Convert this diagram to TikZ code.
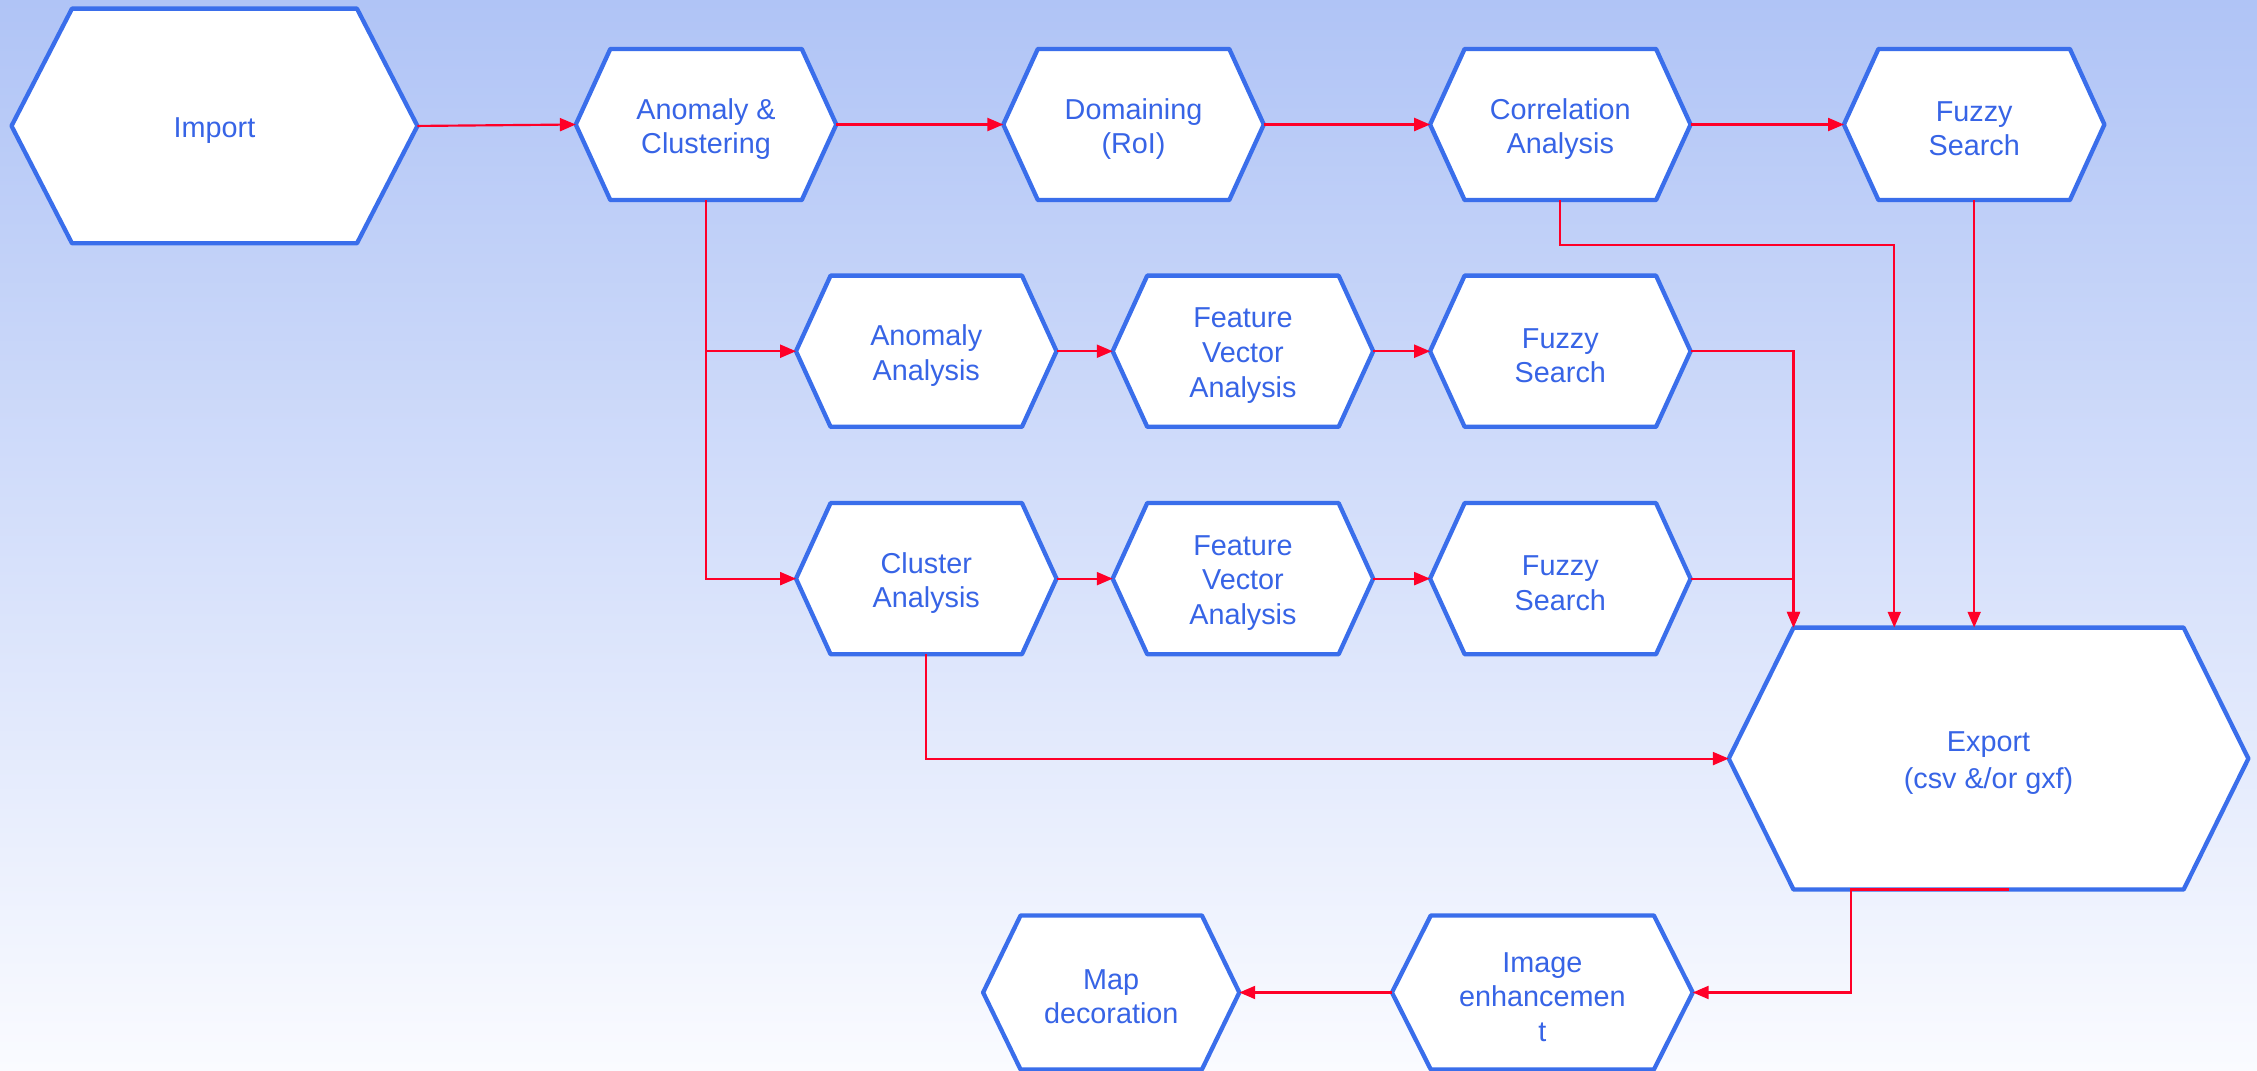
\documentclass[tikz,border=0pt]{standalone}
\usepackage{fontspec}
\setmainfont{Liberation Sans}
\usetikzlibrary{arrows.meta}
\definecolor{hexblue}{RGB}{58,110,235}
\definecolor{txtblue}{RGB}{55,100,230}
\definecolor{linkred}{RGB}{255,0,40}
\definecolor{bgtop}{RGB}{176,196,246}
\definecolor{bgbot}{RGB}{250,251,255}
\tikzset{
  hexframe/.style={rectangle, inner sep=0pt, outer sep=0pt},
  hexline/.style={draw=hexblue, line width=3pt, fill=white, line join=round},
  hextext/.style={text=txtblue, align=center, inner sep=0pt, font=\fontsize{20}{24}\selectfont},
  conn/.style={draw=linkred, line width=1.5pt, -{Triangle[length=11pt,width=9pt]}},
}
\newcommand{\hexbox}[7]{%
  \node[hexframe, minimum width=#4pt, minimum height=#5pt] (#1) at (#2,#3) {};
  \draw[hexline] (#1.west) -- ([xshift=#6pt]#1.north west) -- ([xshift=-#6pt]#1.north east) -- (#1.east) -- ([xshift=-#6pt]#1.south east) -- ([xshift=#6pt]#1.south west) -- cycle;
  \node[hextext] (#1-t) at ([yshift=-3pt]#1.center) {#7};
}
\begin{document}
\begin{tikzpicture}[x=1pt,y=-1pt]
\useasboundingbox (0,0) rectangle (1568,744);
\shade[top color=bgtop, bottom color=bgbot] (0,0) rectangle (1568,744);
% row 1
\hexbox{im}{149}{87.5}{282}{163}{42}{Import}
\hexbox{ac}{490.5}{86.5}{181}{105}{24}{Anomaly \&\\Clustering}
\hexbox{dm}{787.5}{86.5}{181}{105}{24}{Domaining\\(RoI)}
\hexbox{co}{1084}{86.5}{181}{105}{24}{Correlation\\Analysis}
\hexbox{fa}{1371.5}{86.5}{181}{105}{24}{Fuzzy\\Search}
% row 2
\hexbox{aa}{643.5}{244}{181}{105}{24}{Anomaly\\Analysis}
\hexbox{fva}{863.5}{244}{181}{105}{24}{Feature\\Vector\\Analysis}
\hexbox{fb}{1084}{244}{181}{105}{24}{Fuzzy\\Search}
% row 3
\hexbox{ca}{643.5}{402}{181}{105}{24}{Cluster\\Analysis}
\hexbox{fvb}{863.5}{402}{181}{105}{24}{Feature\\Vector\\Analysis}
\hexbox{fc}{1084}{402}{181}{105}{24}{Fuzzy\\Search}
% export
\hexbox{ex}{1381.5}{527}{361}{182}{45}{Export\\[2pt](csv \&/or gxf)}
% row 4
\hexbox{md}{772}{689.5}{178}{107}{26}{Map\\decoration}
\hexbox{ie}{1071.5}{689.5}{209}{107}{27}{Image\\enhancemen\\t}
% connectors
\draw[conn] (im.east) -- (ac.west);
\draw[conn] (ac.east) -- (dm.west);
\draw[conn] (dm.east) -- (co.west);
\draw[conn] (co.east) -- (fa.west);
\draw[conn] (ac.south) |- (aa.west);
\draw[conn] (ac.south) |- (ca.west);
\draw[conn] (aa.east) -- (fva.west);
\draw[conn] (fva.east) -- (fb.west);
\draw[conn] (ca.east) -- (fvb.west);
\draw[conn] (fvb.east) -- (fc.west);
\draw[conn] (fb.east) -| ([xshift=45pt]ex.north west);
\draw[conn] (fc.east) -| ([xshift=45pt]ex.north west);
\draw[conn] (co.south) -- ++(0,31) -| ([xshift=-65.5pt]ex.north);
\draw[conn] (fa.south) -- (fa.south |- ex.north);
\draw[conn] (ca.south) |- (ex.west);
\draw[conn] ([xshift=14.5pt]ex.south) -- ([xshift=-95.5pt]ex.south) |- (ie.east);
\draw[conn] (ie.west) -- (md.east);
\end{tikzpicture}
\end{document}
